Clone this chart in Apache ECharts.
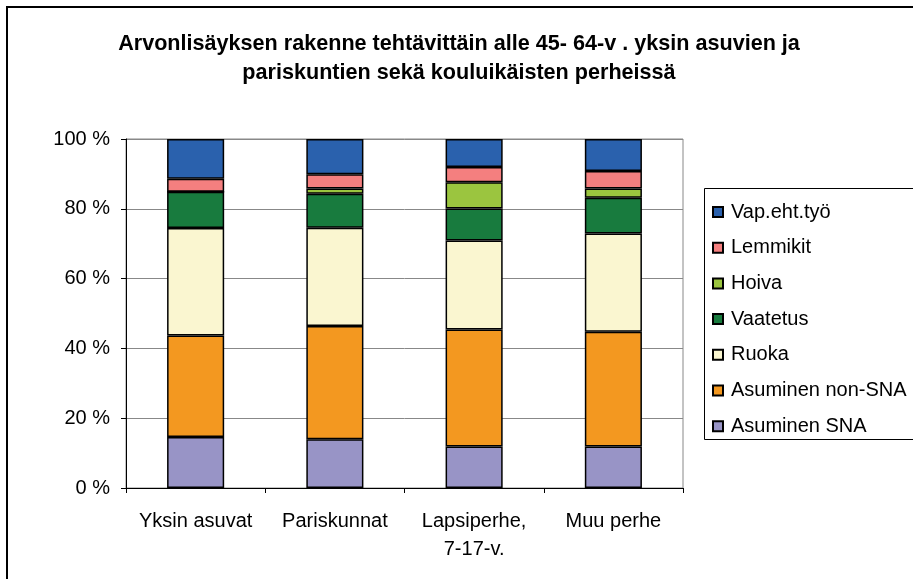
<!DOCTYPE html>
<html>
<head>
<meta charset="utf-8">
<script src="https://cdn.jsdelivr.net/npm/echarts@6/dist/echarts.min.js"></script>
<style>
  html, body { margin: 0; padding: 0; background: #fff; }
  #chart { width: 913px; height: 579px; }
</style>
</head>
<body>
<div id="chart"></div>
<script>
// ryhmät (x-akseli)
var categories = ['Yksin asuvat', 'Pariskunnat', 'Lapsiperhe,\n7-17-v.', 'Muu perhe'];

// osuudet prosentteina, alhaalta ylös
var asuminenSNA    = [14.6, 14.0, 11.9, 11.9];
var asuminenNonSNA = [29.1, 32.4, 33.5, 32.9];
var ruoka          = [30.8, 28.2, 25.5, 28.1];
var vaatetus       = [10.4,  9.7,  9.2, 10.3];
var hoiva          = [ 0.0,  1.5,  7.5,  2.6];
var lemmikit       = [ 3.7,  4.1,  4.4,  5.0];
var vapEhtTyo      = [11.4, 10.1,  8.0,  9.2];

var yTicks = [0, 20, 40, 60, 80, 100];

var font = 'Liberation Sans, Arial, sans-serif';

var myChart = echarts.init(document.getElementById('chart'));

function bar(name, data, color) {
  return {
    name: name,
    type: 'bar',
    stack: 'total',
    barWidth: '41%',
    data: data,
    itemStyle: { color: color, borderColor: '#000', borderWidth: 1.5 },
    animation: false
  };
}

var option = {
  backgroundColor: '#fff',
  animation: false,
  title: {
    text: 'Arvonlisäyksen rakenne tehtävittäin alle 45- 64-v . yksin asuvien ja\npariskuntien sekä kouluikäisten perheissä',
    left: 454,
    top: 25,
    textAlign: 'center',
    textStyle: {
      fontFamily: font,
      fontSize: 21.6,
      fontWeight: 'bold',
      color: '#000',
      lineHeight: 29
    }
  },
  // ulkokehys ja selitteen laatikko
  graphic: [
    {
      type: 'rect',
      shape: { x: 7, y: 7, width: 1000, height: 1000 },
      style: { fill: 'none', stroke: '#000', lineWidth: 2 },
      silent: true
    },
    {
      type: 'rect',
      shape: { x: 704.5, y: 188.5, width: 300, height: 251 },
      style: { fill: 'none', stroke: '#000', lineWidth: 1 },
      silent: true
    }
  ],
  legend: {
    orient: 'vertical',
    left: 707,
    top: 197,
    itemWidth: 10,
    itemHeight: 10,
    itemGap: 15.7,
    icon: 'rect',
    data: ['Vap.eht.työ', 'Lemmikit', 'Hoiva', 'Vaatetus', 'Ruoka', 'Asuminen non-SNA', 'Asuminen SNA'],
    textStyle: { fontFamily: font, fontSize: 20, color: '#000', lineHeight: 20, padding: [0, 0, 0, 3] }
  },
  grid: {
    left: 126,
    right: 230,
    top: 139,
    bottom: 91,
    show: true,
    borderColor: '#888',
    borderWidth: 1
  },
  xAxis: {
    type: 'category',
    data: categories,
    axisLine: { lineStyle: { color: '#000', width: 1 } },
    axisTick: { show: true, length: 5, interval: 0, lineStyle: { color: '#000' } },
    axisLabel: {
      interval: 0,
      fontFamily: font,
      fontSize: 20,
      color: '#000',
      lineHeight: 28,
      margin: 19
    }
  },
  yAxis: {
    type: 'value',
    min: 0,
    max: 100,
    interval: 20,
    axisLine: { show: true, lineStyle: { color: '#000', width: 1 } },
    axisTick: { show: true, length: 5, lineStyle: { color: '#000' } },
    axisLabel: {
      fontFamily: font,
      fontSize: 20,
      color: '#000',
      margin: 16,
      formatter: function (v) { return yTicks.indexOf(v) >= 0 ? v + ' %' : ''; }
    },
    splitLine: { show: true, lineStyle: { color: '#888', width: 1 } }
  },
  series: [
    bar('Asuminen SNA', asuminenSNA, '#9894c6'),
    bar('Asuminen non-SNA', asuminenNonSNA, '#f39820'),
    bar('Ruoka', ruoka, '#faf6d0'),
    bar('Vaatetus', vaatetus, '#187b3e'),
    bar('Hoiva', hoiva, '#9bc53f'),
    bar('Lemmikit', lemmikit, '#f47f7f'),
    bar('Vap.eht.työ', vapEhtTyo, '#2a61ad')
  ]
};

myChart.setOption(option);
</script>
</body>
</html>
